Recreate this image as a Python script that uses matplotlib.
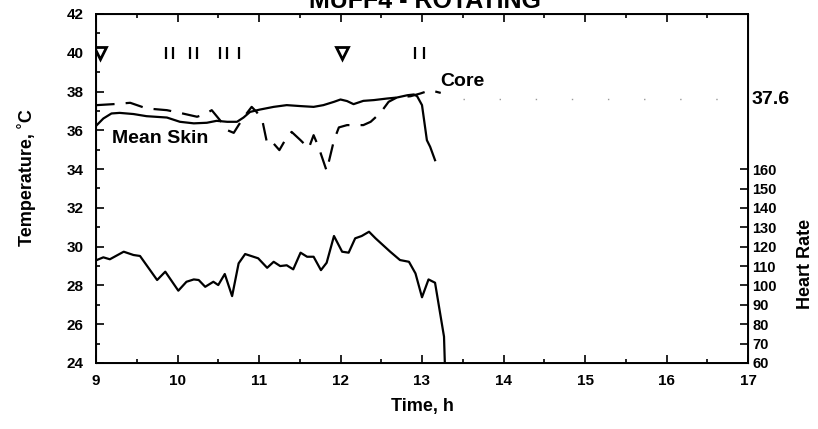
import numpy as np
import matplotlib
matplotlib.use('Agg')
import matplotlib.pyplot as plt

plt.rcParams['font.family'] = ['Liberation Sans', 'DejaVu Sans']
plt.rcParams['font.weight'] = 'bold'

## Mean skin temperature (solid)
skin_t = [9.01, 9.09, 9.19, 9.29, 9.46, 9.62, 9.87, 10.03, 10.20, 10.36, 10.48, 10.61, 10.73,
          10.81, 10.89, 11.01, 11.18, 11.34, 11.51, 11.67, 11.79, 11.92, 12.00, 12.08, 12.16,
          12.28, 12.41, 12.57, 12.69, 12.82, 12.90, 12.94, 13.00, 13.06, 13.10, 13.16]
skin_T = [36.27, 36.61, 36.87, 36.90, 36.84, 36.73, 36.66, 36.44, 36.36, 36.39, 36.49, 36.44, 36.44,
          36.66, 36.95, 37.07, 37.21, 37.30, 37.25, 37.21, 37.30, 37.47, 37.59, 37.51, 37.35,
          37.52, 37.56, 37.64, 37.69, 37.81, 37.85, 37.76, 37.30, 35.49, 35.15, 34.46]

## Core temperature (dashed)
core_t = [9.01, 9.21, 9.42, 9.62, 9.87, 10.03, 10.24, 10.34, 10.42, 10.52, 10.61, 10.69, 10.75,
          10.81, 10.91, 10.97, 11.04, 11.10, 11.16, 11.25, 11.32, 11.40, 11.51, 11.61, 11.67,
          11.73, 11.83, 11.92, 11.98, 12.08, 12.28, 12.37, 12.49, 12.59, 12.69, 12.86, 12.98,
          13.10, 13.23]
core_T = [37.30, 37.35, 37.42, 37.13, 37.04, 36.90, 36.70, 36.84, 37.04, 36.53, 36.01, 35.87, 36.27,
          36.66, 37.21, 36.95, 36.53, 35.32, 35.41, 34.98, 35.49, 35.92, 35.49, 35.07, 35.75,
          35.15, 33.91, 35.49, 36.15, 36.27, 36.27, 36.44, 36.90, 37.47, 37.69, 37.76, 37.90,
          38.07, 37.93]

## Heart rate (right axis)
hr_t = [9.01, 9.09, 9.17, 9.34, 9.46, 9.54, 9.75, 9.85, 10.01, 10.11, 10.20, 10.26, 10.34, 10.44,
        10.50, 10.58, 10.67, 10.75, 10.83, 10.99, 11.10, 11.18, 11.26, 11.34, 11.42, 11.51, 11.59,
        11.67, 11.76, 11.83, 11.92, 12.02, 12.10, 12.18, 12.26, 12.35, 12.43, 12.61, 12.73, 12.84,
        12.92, 13.00, 13.08, 13.16, 13.27, 13.28]
hr = [113.1, 114.5, 113.5, 117.4, 115.7, 115.2, 102.8, 107.1, 97.3, 101.9, 103.1, 102.8, 99.3, 101.9,
      100.2, 105.9, 94.5, 111.4, 116.2, 114.0, 109.1, 112.2, 110.0, 110.4, 108.3, 116.9, 114.8,
      114.8, 107.9, 111.7, 125.5, 117.4, 116.9, 124.3, 125.5, 127.7, 124.3, 117.4, 113.1, 112.2,
      106.2, 93.9, 103.1, 101.4, 73.6, 60.2]

## Event markers at 40 C
tri_t = [9.05, 12.02]
bar_t = [9.86, 9.94, 10.15, 10.24, 10.52, 10.61, 10.76, 12.92, 13.03]

fig = plt.figure(figsize=(8.18, 4.29), dpi=100)
ax = fig.add_axes([96/818, 1-363/429, 652/818, 349/429])

ax.plot(skin_t, skin_T, color='k', lw=1.6)
ax.plot(core_t, core_T, color='k', lw=1.6, ls=(0, (8, 5)))
ax.plot([13.5, 17], [37.6, 37.6], color='0.6', lw=1, ls=(0, (1, 25)))
ax.plot(tri_t, [40]*len(tri_t), 'v', ms=8, mfc='white', mec='k', mew=2)
ax.plot(bar_t, [40]*len(bar_t), '|', ms=8, mec='k', mew=1.6)

ax.set_xlim(9, 17)
ax.set_ylim(24, 42)
ax.set_xticks(range(9, 18))
ax.set_xticks(np.arange(9, 17.01, 0.5), minor=True)
ax.set_yticks(range(24, 43, 2))
ax.set_yticks(range(24, 43), minor=True)
ax.tick_params(which='both', direction='in', top=True, labelsize=11, width=1.2)
ax.tick_params(which='major', length=6)
ax.tick_params(which='minor', length=3)
ax.tick_params(axis='x', pad=8)
ax.tick_params(axis='y', pad=9)
for s in ax.spines.values():
    s.set_linewidth(1.4)

ax2 = ax.twinx()
ax2.plot(hr_t, hr, color='k', lw=1.6)
ax2.set_ylim(60, 240)
ax2.set_yticks(range(60, 170, 10))
ax2.tick_params(direction='in', length=6, width=1.2, labelsize=10.5, pad=3)

ax.text(9.2, 35.6, 'Mean Skin', fontsize=14, fontweight='bold', va='center')
ax.text(13.22, 38.5, 'Core', fontsize=14, fontweight='bold', va='center')
fig.text(752/818, 1-100/429, '37.6', fontsize=14, fontweight='bold', va='center')

fig.text(26/818, 1-178/429, 'Temperature, ˚C', rotation=90, fontsize=13, ha='center', va='center')
fig.text(806/818, 1-264/429, 'Heart Rate', rotation=90, fontsize=13, ha='center', va='center')
fig.text(422/818, 1-406/429, 'Time, h', fontsize=13, ha='center', va='center')
fig.text(425/818, 1-8/429, 'MUFF4 - ROTATING', fontsize=18, fontweight='bold', ha='center', va='baseline')

fig.savefig('out.png', dpi=100)
